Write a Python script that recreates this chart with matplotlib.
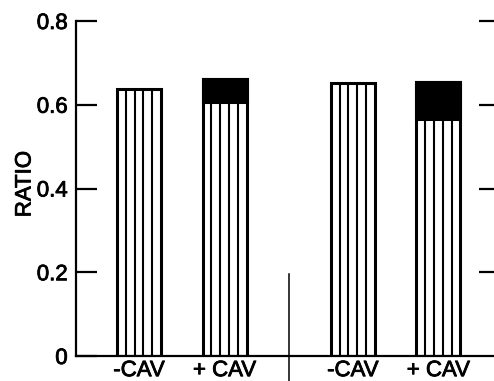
import matplotlib
matplotlib.use("Agg")
import matplotlib.pyplot as plt
import matplotlib.patheffects as pe
import numpy as np

plt.rcParams['font.family'] = ['Liberation Sans', 'DejaVu Sans']

# Data
labels = ["-CAV", "+ CAV", "-CAV", "+ CAV"]
positions = [0.0, 1.0, 2.5, 3.5]
striped = [0.637, 0.606, 0.652, 0.566]   # vertically striped portion
black = [0.000, 0.055, 0.000, 0.088]     # solid black top portion
yticks = [0, 0.2, 0.4, 0.6, 0.8]
yticklabels = ["0", "0.2", "0.4", "0.6", "0.8"]
divider_x = 1.75

fig = plt.figure(figsize=(4.94, 3.81), dpi=100)
ax = fig.add_axes([76/494, 25/381, 1 - 76/494, (356-21)/381])

width = 0.515
lw_edge = 2.2
for x, s, b in zip(positions, striped, black):
    total = s + b
    ax.bar(x, total, width=width, color='white', edgecolor='black',
           linewidth=lw_edge, zorder=2)
    if b > 0:
        ax.bar(x, b, width=width, bottom=s, color='black', edgecolor='black',
               linewidth=lw_edge, zorder=3)
    x0 = x - width / 2
    for k in range(1, 5):
        ax.vlines(x0 + width * k / 5, 0, s, color='black', linewidth=1.5, zorder=3)

ax.set_xlim(-0.737, 4.15)
ax.set_ylim(0, 0.8)

for side in ['top', 'right']:
    ax.spines[side].set_visible(False)
ax.spines['left'].set_linewidth(1.6)
ax.spines['bottom'].set_linewidth(1.6)

stroke = [pe.withStroke(linewidth=0.6, foreground='black')]
ax.set_yticks(yticks)
ax.set_yticklabels(yticklabels)
ax.tick_params(axis='y', direction='in', length=15, width=1.6, pad=6,
               labelsize=16)
ax.set_xticks(positions)
ax.set_xticklabels(labels)
ax.tick_params(axis='x', length=0, pad=3, labelsize=16)
for t in ax.get_xticklabels() + ax.get_yticklabels():
    t.set_path_effects(stroke)

# right-side inward ticks
ax2 = ax.twinx()
ax2.set_ylim(0, 0.8)
ax2.set_yticks(yticks[1:])
ax2.set_yticklabels([])
for side in ['top', 'right', 'left', 'bottom']:
    ax2.spines[side].set_visible(False)
ax2.tick_params(axis='y', direction='in', length=10.5, width=1.6)

# divider line
ax.plot([divider_x, divider_x], [0.195, -0.07], color='black', linewidth=1.1,
        clip_on=False, zorder=4)

fig.text(25/494, 1 - 184/381, "RATIO", rotation=90, ha='center', va='center',
         fontsize=16, path_effects=stroke)

fig.savefig("out.png", dpi=100)
